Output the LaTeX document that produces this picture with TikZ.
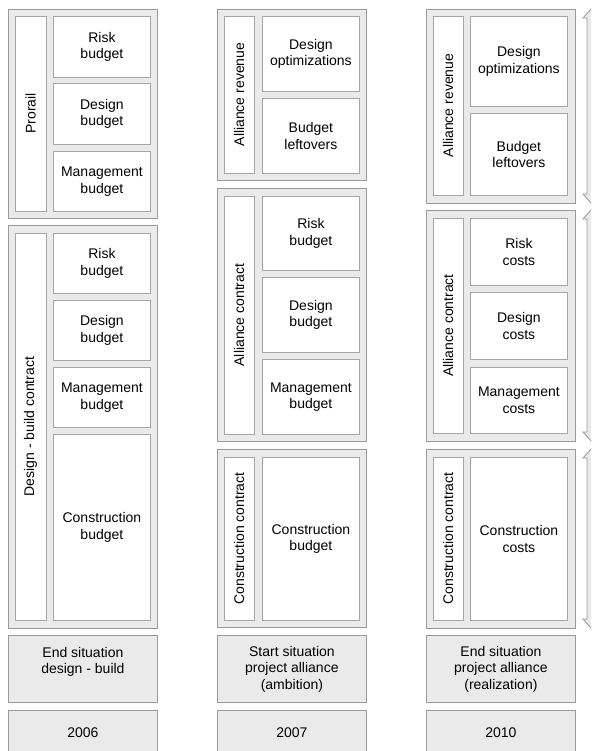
\documentclass[tikz,border=0pt]{standalone}
\usepackage{fontspec}
\setmainfont{Liberation Sans}
\definecolor{panelgray}{HTML}{EAEAEA}
\definecolor{edgegray}{HTML}{999999}
\definecolor{celledge}{HTML}{A6A6A6}
\tikzset{
  panel/.style={draw=edgegray,fill=panelgray,line width=0.8pt,anchor=north west,
    minimum width=149pt,inner sep=0pt},
  cell/.style={draw=celledge,fill=white,line width=0.8pt,anchor=north west,
    minimum width=97pt,inner sep=0pt,align=center,
    font=\fontsize{14}{16.5}\selectfont},
  stripbox/.style={draw=celledge,fill=white,line width=0.8pt,rotate=90,
    minimum height=30pt,inner sep=0pt,font=\fontsize{14}{16.5}\selectfont},
  footbox/.style={draw=edgegray,fill=panelgray,line width=0.8pt,anchor=north west,
    minimum width=149pt,inner sep=0pt,align=center,
    font=\fontsize{14}{16.5}\selectfont},
  spanarrow/.style={draw=edgegray,fill=panelgray,line width=0.8pt}
}
\begin{document}
\begin{tikzpicture}[x=1pt,y=-1pt]
  \clip (0,0) rectangle (591,751);
  \fill[white] (0,0) rectangle (591,751);
  % 2006: design - build
  \node[panel,minimum height=209pt] (prorail) at (8,9) {};
  \node[stripbox,minimum width=195pt,minimum height=31pt] (prorailtxt) at (30.5,113.5) {Prorail};
  \node[cell,minimum height=61pt] (riska) at (53,16) {Risk\\budget};
  \node[cell,minimum height=61pt] (designa) at (53,83) {Design\\budget};
  \node[cell,minimum height=60pt] (mgmta) at (53,151) {Management\\budget};
  \node[panel,minimum height=403pt] (dbcontract) at (8,225) {};
  \node[stripbox,minimum width=387pt,minimum height=31pt] (dbtxt) at (30.5,426.5) {Design - build contract};
  \node[cell,minimum height=60pt] (riskb) at (53,233) {Risk\\budget};
  \node[cell,minimum height=60pt] (designb) at (53,300) {Design\\budget};
  \node[cell,minimum height=60pt] (mgmtb) at (53,367) {Management\\budget};
  \node[cell,minimum height=186pt] (constra) at (53,434) {Construction\\budget};
  % 2007: ambition
  \node[panel,minimum height=171pt] (revenueb) at (217,9) {};
  \node[stripbox,minimum width=157pt] (revtxtb) at (239,94.5) {Alliance revenue};
  \node[cell,minimum height=75pt] (optimb) at (262,16) {Design\\optimizations};
  \node[cell,minimum height=75pt] (leftb) at (262,98) {Budget\\leftovers};
  \node[panel,minimum height=253pt] (alliancea) at (217,188) {};
  \node[stripbox,minimum width=238pt] (alltxta) at (239,315) {Alliance contract};
  \node[cell,minimum height=74pt] (riskc) at (262,196) {Risk\\budget};
  \node[cell,minimum height=75pt] (designc) at (262,277) {Design\\budget};
  \node[cell,minimum height=75pt] (mgmtc) at (262,359) {Management\\budget};
  \node[panel,minimum height=178pt] (consta) at (217,449) {};
  \node[stripbox,minimum width=163pt] (contxta) at (239,538.5) {Construction contract};
  \node[cell,minimum height=163pt] (constrb) at (262,457) {Construction\\budget};
  % 2010: realization
  \node[panel,minimum height=194pt] (revenuec) at (426,9) {};
  \node[stripbox,minimum width=179pt] (revtxtc) at (448,105.5) {Alliance revenue};
  \node[cell,minimum height=90pt] (optimc) at (470,16) {Design\\optimizations};
  \node[cell,minimum height=82pt] (leftc) at (470,113) {Budget\\leftovers};
  \node[panel,minimum height=231pt] (allianceb) at (426,210) {};
  \node[stripbox,minimum width=215pt] (alltxtb) at (448,325.5) {Alliance contract};
  \node[cell,minimum height=67pt] (riskd) at (470,218) {Risk\\costs};
  \node[cell,minimum height=67pt] (designd) at (470,292) {Design\\costs};
  \node[cell,minimum height=66pt] (mgmtd) at (470,367) {Management\\costs};
  \node[panel,minimum height=179pt] (constb) at (426,449) {};
  \node[stripbox,minimum width=163pt] (contxtb) at (448,538.5) {Construction contract};
  \node[cell,minimum height=163pt] (constrc) at (470,457) {Construction\\costs};
  % arrows at the right edge
  \foreach \yt/\yb in {9/203,210/441,449/628}
    \draw[spanarrow] (591,\yt) -- (583,\yt+9) -- (587,\yt+9) -- (587,\yb-9)
      -- (583,\yb-9) -- (591,\yb) -- (599,\yb-9) -- (595,\yb-9)
      -- (595,\yt+9) -- (599,\yt+9) -- cycle;
  % captions
  \node[footbox,minimum height=67pt] (sita) at (8,635) {End situation\\design - build\\\mbox{}};
  \node[footbox,minimum height=67pt] (sitb) at (217,635) {Start situation\\project alliance\\(ambition)};
  \node[footbox,minimum height=67pt] (sitc) at (426,635) {End situation\\project alliance\\(realization)};
  \node[footbox,minimum height=44pt] (yeara) at (8,710) {2006};
  \node[footbox,minimum height=44pt] (yearb) at (217,710) {2007};
  \node[footbox,minimum height=44pt] (yearc) at (426,710) {2010};
\end{tikzpicture}
\end{document}
